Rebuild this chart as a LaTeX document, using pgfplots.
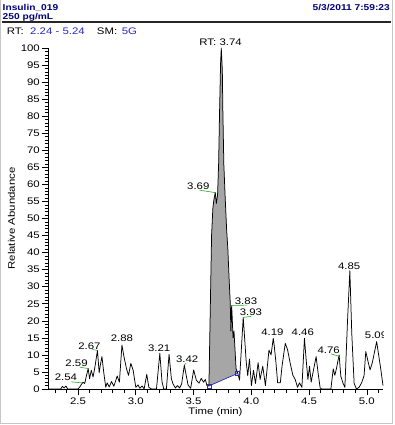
\documentclass[border=0pt]{standalone}
\usepackage{pgfplots}
\pgfplotsset{compat=1.18}
\usepackage{fontspec}
\setmainfont[FakeStretch=1.2]{Liberation Sans}
\definecolor{hdr}{RGB}{0,0,120}
\definecolor{rtblue}{RGB}{40,40,190}
\definecolor{pkgreen}{RGB}{40,170,40}
\definecolor{areagray}{RGB}{166,166,166}
\newcommand\lbl{\fontsize{9.5}{9.5}\selectfont}
\newcommand\hdrf{\fontsize{8.5}{8.5}\selectfont\bfseries}
\begin{document}
\begin{tikzpicture}
\path[use as bounding box] (0,0) rectangle (394pt,-425pt);
\fill[white] (0,0) rectangle (394pt,-425pt);
% header
\node[anchor=base west, inner sep=0, font=\hdrf, text=hdr] at (2.5pt,-10.7pt) {Insulin\_019};
\node[anchor=base west, inner sep=0, font=\hdrf, text=hdr] at (2.5pt,-19.3pt) {250 pg/mL};
\node[anchor=base east, inner sep=0, font=\hdrf, text=hdr] at (390pt,-10.7pt) {5/3/2011 7:59:23};
\draw[black!85, line width=1.6pt] (1.7pt,-21.8pt) -- (390.7pt,-21.8pt);
% RT line
\node[anchor=base west, inner sep=0, font=\lbl] at (6.7pt,-35pt) {RT:};
\node[anchor=base west, inner sep=0, font=\lbl, text=rtblue] at (30pt,-35pt) {2.24 - 5.24};
\node[anchor=base west, inner sep=0, font=\lbl] at (96.7pt,-35pt) {SM:};
\node[anchor=base west, inner sep=0, font=\lbl, text=rtblue] at (121.7pt,-35pt) {5G};
\begin{axis}[
  at={(48pt,-389pt)}, anchor=south west,
  scale only axis, width=335pt, height=341pt,
  xmin=2.24, xmax=5.14, ymin=0, ymax=100,
  axis lines*=left,
  axis line style={black, line width=0.8pt, -},
  clip=false,
  xtick={2.5,3,3.5,4,4.5,5},
  xticklabels={2.5,3.0,3.5,4.0,4.5,5.0},
  minor xtick={2.3,2.4,2.6,2.7,2.8,2.9,3.1,3.2,3.3,3.4,3.6,3.7,3.8,3.9,4.1,4.2,4.3,4.4,4.6,4.7,4.8,4.9,5.1},
  ytick={0,5,10,15,20,25,30,35,40,45,50,55,60,65,70,75,80,85,90,95,100},
  yticklabels={0,5,10,15,20,25,30,35,40,45,50,55,60,65,70,75,80,85,90,95,100},
  minor ytick={0,1,...,100},
  tick align=outside,
  major tick length=6pt, minor tick length=3.5pt,
  tick style={black, line width=0.6pt},
  ticklabel style={font=\lbl},
  yticklabel style={anchor=east, inner xsep=2pt},
  xticklabel style={inner ysep=2.5pt},
]
% filled integration area
\addplot[fill=areagray, draw=none] coordinates {
(3.633,0.9) (3.643,20) (3.656,45) (3.667,53) (3.676,55.5) (3.688,57.6) (3.697,54.4) (3.708,57)
(3.717,66) (3.725,81) (3.734,95.5) (3.740,100) (3.749,93.5) (3.754,81) (3.762,66) (3.774,56)
(3.786,47) (3.797,41) (3.807,33) (3.818,25) (3.823,17) (3.830,24.5) (3.842,15) (3.850,17)
(3.868,6) (3.883,4.6)
};
% chromatogram trace
\addplot[black, line width=0.75pt, line join=round] coordinates {
(2.240,0) (2.350,0) (2.365,0.8) (2.380,0.3) (2.395,0.9) (2.410,0) (2.500,0) (2.515,0.6)
(2.530,1.4) (2.543,2.0) (2.558,1.6) (2.570,3.5) (2.588,6.0) (2.600,3.0) (2.615,5.5) (2.630,3.5)
(2.645,6.2) (2.668,11.3) (2.683,4.8) (2.693,7.0) (2.707,9.5) (2.722,5.0) (2.740,0.5) (2.752,1.8)
(2.770,0.6) (2.790,2.2) (2.810,0.8) (2.839,3.8) (2.858,2.0) (2.880,12.9) (2.898,9.4) (2.920,5.9)
(2.937,4.0) (2.957,7.5) (2.977,5.5) (3.000,0.5) (3.020,1.2) (3.035,0.2) (3.055,0.9) (3.072,0)
(3.095,4.3) (3.113,0.5) (3.136,0) (3.179,0) (3.208,10.5) (3.227,2.1) (3.242,0) (3.265,0)
(3.288,10.2) (3.308,3.0) (3.322,1.5) (3.343,0.3) (3.360,1.0) (3.380,0.3) (3.397,1.5) (3.420,7.0)
(3.452,1.2) (3.475,0.2) (3.501,5.6) (3.524,2.6) (3.547,1.7) (3.567,3.1) (3.587,2.0) (3.602,2.8)
(3.616,1.0) (3.633,0.9) (3.643,20) (3.656,45) (3.667,53) (3.676,55.5) (3.688,57.6) (3.697,54.4)
(3.708,57) (3.717,66) (3.725,81) (3.734,95.5) (3.740,100) (3.749,93.5) (3.754,81) (3.762,66)
(3.774,56) (3.786,47) (3.797,41) (3.807,33) (3.818,25) (3.823,17) (3.830,24.5) (3.842,15)
(3.850,17) (3.868,6) (3.883,4.6) (3.898,2.6) (3.930,21) (3.956,7.9) (3.969,3.9) (3.984,8.8)
(4.001,1.0) (4.019,5.5) (4.036,1.6) (4.059,7.7) (4.076,2.8) (4.099,6.7) (4.122,1.0) (4.153,11.4)
(4.171,10.0) (4.190,14.9) (4.199,12.5) (4.214,7.5) (4.228,1.8) (4.251,1.8) (4.266,6.7) (4.294,13.4)
(4.314,11.5) (4.337,7.5) (4.360,4.0) (4.380,2.8) (4.400,0.5) (4.417,1.8) (4.438,0.5) (4.460,14.9)
(4.475,8.5) (4.490,2.8) (4.504,6.7) (4.518,2.0) (4.538,5.5) (4.561,9.5) (4.579,4.5) (4.596,0.3)
(4.610,0) (4.689,0) (4.709,5.9) (4.723,4.0) (4.737,6.0) (4.760,10.0) (4.775,3.7) (4.795,1.6)
(4.810,0.5) (4.832,19.3) (4.853,34.7) (4.870,16) (4.890,1.7) (4.910,0) (4.933,0.5) (4.956,1.9)
(4.976,3.9) (4.991,11.0) (5.011,8.0) (5.028,5.6) (5.048,7.8) (5.085,13.9) (5.100,10.5) (5.120,6.0)
(5.140,1.0)
};
% integration baseline
\addplot[rtblue, line width=0.7pt, mark=square, mark size=2pt, mark options={solid, fill=white, draw=rtblue}] coordinates {(3.633,0.9) (3.883,4.6)};
% peak labels and leaders
\draw[pkgreen, line width=0.6pt] (axis cs:2.44,2.1) -- (axis cs:2.535,1.8);
\draw[pkgreen, line width=0.6pt] (axis cs:2.515,6.4) -- (axis cs:2.588,6.0);
\draw[pkgreen, line width=0.6pt] (axis cs:2.625,11.6) -- (axis cs:2.668,11.3);
\draw[pkgreen, line width=0.6pt] (axis cs:3.42,7.0) -- (axis cs:3.435,7.6);
\draw[pkgreen, line width=0.6pt] (axis cs:3.553,58.3) -- (axis cs:3.686,57.6);
\draw[pkgreen, line width=0.6pt] (axis cs:3.83,24.5) -- (axis cs:3.965,24.6);
\draw[pkgreen, line width=0.6pt] (axis cs:3.93,21) -- (axis cs:4.0,21.3);
\draw[pkgreen, line width=0.6pt] (axis cs:4.69,10.3) -- (axis cs:4.76,9.6);
\node[font=\lbl, inner sep=0] at (axis cs:3.734,101.6) {RT: 3.74};
\node[font=\lbl, inner sep=0] at (axis cs:3.541,59.5) {3.69};
\node[font=\lbl, inner sep=0] at (axis cs:2.395,3.4) {2.54};
\node[font=\lbl, inner sep=0] at (axis cs:2.487,7.6) {2.59};
\node[font=\lbl, inner sep=0] at (axis cs:2.599,12.6) {2.67};
\node[font=\lbl, inner sep=0] at (axis cs:2.880,14.8) {2.88};
\node[font=\lbl, inner sep=0] at (axis cs:3.203,12.0) {3.21};
\node[font=\lbl, inner sep=0] at (axis cs:3.445,8.6) {3.42};
\node[font=\lbl, inner sep=0] at (axis cs:3.954,25.8) {3.83};
\node[font=\lbl, inner sep=0] at (axis cs:3.997,22.6) {3.93};
\node[font=\lbl, inner sep=0] at (axis cs:4.183,16.6) {4.19};
\node[font=\lbl, inner sep=0] at (axis cs:4.446,16.6) {4.46};
\node[font=\lbl, inner sep=0] at (axis cs:4.670,11.5) {4.76};
\node[font=\lbl, inner sep=0] at (axis cs:4.847,36.1) {4.85};
\node[font=\lbl, inner sep=0] at (axis cs:5.080,15.8) {5.09};
\end{axis}
% clip the cut-off label at the right edge of the plot
\fill[white] (383.5pt,-322pt) rectangle (391.5pt,-346pt);
% axis titles
\node[font=\lbl, inner sep=0] at (215.5pt,-412pt) {Time (min)};
\node[font=\lbl, inner sep=0, rotate=90] at (11.5pt,-218.5pt) {Relative Abundance};
% window frame
\draw[gray!45, line width=1.4pt] (0.7pt,0pt) -- (0.7pt,-423.3pt) -- (392.3pt,-423.3pt) -- (392.3pt,0pt);
\end{tikzpicture}
\end{document}
